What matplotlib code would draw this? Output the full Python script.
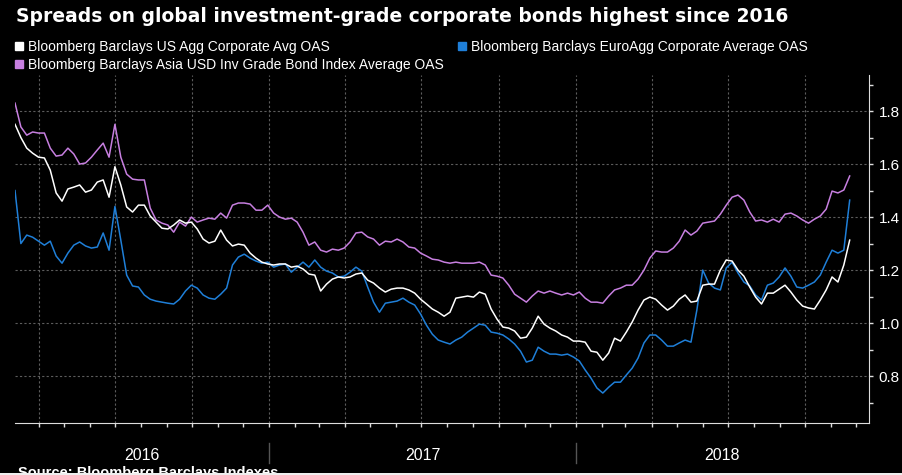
import numpy as np
import pandas as pd
import matplotlib
matplotlib.use("Agg")
import matplotlib.pyplot as plt
import matplotlib.dates as mdates
from matplotlib.lines import Line2D
from matplotlib.patches import Rectangle

# -------------------------------
# Data (weekly), OAS in percentage points
# -------------------------------
dates = pd.date_range("2016-03-04", "2018-11-23", freq="W-FRI")

us_agg = [1.75, 1.70, 1.66, 1.641, 1.626, 1.623, 1.577, 1.491, 1.46, 1.506,
          1.513, 1.521, 1.494, 1.502, 1.532, 1.54, 1.475, 1.59, 1.521, 1.438,
          1.419, 1.445, 1.445, 1.404, 1.381, 1.358, 1.355, 1.37, 1.389, 1.377,
          1.381, 1.355, 1.317, 1.302, 1.309, 1.351, 1.313, 1.291, 1.298, 1.294,
          1.264, 1.245, 1.23, 1.223, 1.219, 1.223, 1.223, 1.211, 1.215, 1.204,
          1.185, 1.181, 1.121, 1.147, 1.166, 1.174, 1.17, 1.174, 1.185, 1.189,
          1.162, 1.151, 1.132, 1.117, 1.128, 1.132, 1.132, 1.125, 1.113, 1.09,
          1.072, 1.053, 1.041, 1.026, 1.041, 1.094, 1.098, 1.102, 1.098, 1.117,
          1.109, 1.053, 1.015, 0.985, 0.981, 0.97, 0.943, 0.947, 0.981, 1.026,
          0.996, 0.981, 0.97, 0.955, 0.947, 0.932, 0.932, 0.928, 0.894, 0.89,
          0.86, 0.887, 0.943, 0.932, 0.966, 1.004, 1.049, 1.087, 1.098, 1.09,
          1.068, 1.049, 1.064, 1.09, 1.106, 1.079, 1.083, 1.143, 1.147, 1.147,
          1.20, 1.238, 1.234, 1.20, 1.177, 1.136, 1.098, 1.072, 1.113, 1.113,
          1.128, 1.143, 1.117, 1.087, 1.064, 1.057, 1.053, 1.087, 1.125, 1.174,
          1.155, 1.219, 1.313]

euro_agg = [1.50, 1.30, 1.332, 1.324, 1.309, 1.294, 1.309, 1.253, 1.226, 1.264,
            1.294, 1.306, 1.291, 1.283, 1.287, 1.34, 1.275, 1.44, 1.313, 1.181,
            1.14, 1.136, 1.106, 1.09, 1.083, 1.079, 1.075, 1.072, 1.09, 1.121,
            1.143, 1.132, 1.106, 1.094, 1.09, 1.109, 1.132, 1.219, 1.249, 1.26,
            1.245, 1.234, 1.226, 1.23, 1.211, 1.219, 1.223, 1.192, 1.211, 1.23,
            1.211, 1.238, 1.211, 1.196, 1.189, 1.174, 1.177, 1.192, 1.211, 1.196,
            1.136, 1.079, 1.041, 1.075, 1.079, 1.083, 1.094, 1.079, 1.068, 1.034,
            0.992, 0.958, 0.936, 0.928, 0.921, 0.936, 0.947, 0.966, 0.981, 0.996,
            0.992, 0.966, 0.962, 0.955, 0.94, 0.921, 0.894, 0.853, 0.86, 0.909,
            0.894, 0.883, 0.883, 0.879, 0.883, 0.872, 0.857, 0.823, 0.792, 0.755,
            0.736, 0.758, 0.777, 0.777, 0.804, 0.83, 0.868, 0.925, 0.955, 0.955,
            0.936, 0.913, 0.913, 0.925, 0.936, 0.928, 1.049, 1.20, 1.151, 1.132,
            1.125, 1.208, 1.23, 1.189, 1.155, 1.14, 1.106, 1.087, 1.143, 1.151,
            1.174, 1.208, 1.177, 1.136, 1.132, 1.143, 1.155, 1.181, 1.23, 1.275,
            1.264, 1.275, 1.464]

asia_usd = [1.83, 1.74, 1.709, 1.721, 1.717, 1.717, 1.66, 1.63, 1.634, 1.66,
            1.638, 1.60, 1.604, 1.626, 1.653, 1.679, 1.626, 1.75, 1.626, 1.562,
            1.543, 1.54, 1.54, 1.434, 1.389, 1.377, 1.37, 1.343, 1.381, 1.366,
            1.40, 1.381, 1.389, 1.396, 1.392, 1.415, 1.396, 1.445, 1.453, 1.453,
            1.449, 1.426, 1.426, 1.445, 1.415, 1.40, 1.392, 1.396, 1.381, 1.343,
            1.294, 1.306, 1.275, 1.268, 1.279, 1.275, 1.283, 1.306, 1.34, 1.343,
            1.325, 1.317, 1.294, 1.309, 1.306, 1.317, 1.306, 1.287, 1.283, 1.264,
            1.253, 1.241, 1.238, 1.23, 1.226, 1.23, 1.226, 1.226, 1.226, 1.23,
            1.219, 1.181, 1.177, 1.17, 1.143, 1.109, 1.094, 1.079, 1.102, 1.121,
            1.113, 1.121, 1.113, 1.106, 1.113, 1.106, 1.117, 1.094, 1.079, 1.079,
            1.075, 1.102, 1.125, 1.132, 1.143, 1.143, 1.166, 1.20, 1.245, 1.272,
            1.268, 1.268, 1.283, 1.309, 1.351, 1.332, 1.347, 1.377, 1.381, 1.385,
            1.411, 1.445, 1.475, 1.483, 1.464, 1.419, 1.385, 1.389, 1.381, 1.392,
            1.381, 1.411, 1.415, 1.404, 1.389, 1.377, 1.392, 1.404, 1.43, 1.498,
            1.491, 1.502, 1.555]

labels = ["Bloomberg Barclays US Agg Corporate Avg OAS",
          "Bloomberg Barclays EuroAgg Corporate Average OAS",
          "Bloomberg Barclays Asia USD Inv Grade Bond Index Average OAS"]
colores = ["#ffffff", "#1f7fd8", "#c77fe0"]
years = ["2016", "2017", "2018"]

title = "Spreads on global investment-grade corporate bonds highest since 2016"
source = "Source: Bloomberg Barclays Indexes"

# -------------------------------
# Figure
# -------------------------------
W, H = 902, 475
fx = lambda px: px / W
fy = lambda py: 1 - py / H

plt.rcParams['font.family'] = ['Liberation Sans', 'DejaVu Sans']

fig = plt.figure(figsize=(W / 100, H / 100), dpi=100, facecolor="black")
ax = fig.add_axes([fx(15), fy(423), fx(869) - fx(15), fy(75) - fy(423)])
ax.set_facecolor("black")

x0 = pd.Timestamp("2016-03-04")
x1 = pd.Timestamp("2018-12-16")
ax.set_xlim(x0, x1)
ax.set_ylim(0.623, 1.936)

for serie, c in zip([asia_usd, euro_agg, us_agg], [colores[2], colores[1], colores[0]]):
    ax.plot(dates, serie, color=c, lw=1.1, zorder=3)

# ejes
for s in ["top", "left"]:
    ax.spines[s].set_visible(False)
ax.spines["bottom"].set_color("#dddddd")
ax.spines["right"].set_color("#dddddd")

ax.yaxis.tick_right()
ax.set_yticks([0.8, 1.0, 1.2, 1.4, 1.6, 1.8])
ax.set_yticks([0.7, 0.9, 1.1, 1.3, 1.5, 1.7, 1.9], minor=True)
ax.yaxis.set_major_formatter(matplotlib.ticker.FormatStrFormatter("%.1f"))
ax.tick_params(axis="y", which="both", direction="out", length=3, width=1,
               color="#dddddd", labelcolor="white", labelsize=11, pad=4)

ax.xaxis.set_major_locator(mdates.MonthLocator(bymonth=[1, 4, 7, 10]))
ax.xaxis.set_minor_locator(mdates.MonthLocator())
ax.xaxis.set_major_formatter(matplotlib.ticker.NullFormatter())
ax.tick_params(axis="x", which="both", direction="out", length=3, width=1,
               color="#dddddd")

ax.grid(True, which="major", color="#5c5c5c", linestyle=(0, (2, 2)), lw=0.8)

# etiquetas de años
bounds = [x0, pd.Timestamp("2017-01-01"), pd.Timestamp("2018-01-01"), x1]
tr = ax.get_xaxis_transform()
for k, yr in enumerate(years):
    a, b = mdates.date2num(bounds[k]), mdates.date2num(bounds[k + 1])
    ax.text((a + b) / 2, -0.092, yr, transform=tr, ha="center", va="center",
            color="white", fontsize=11.5, clip_on=False)
for d in bounds[1:3]:
    ax.plot([d, d], [-0.057, -0.115], transform=tr, color="#555555", lw=1,
            clip_on=False)

# -------------------------------
# Textos
# -------------------------------
fig.text(fx(16), fy(16), title, color="white", fontsize=13.5, fontweight="bold",
         family="DejaVu Sans", ha="left", va="center")

handles = [Line2D([], [], marker="s", linestyle="none", markersize=6,
                  color=c) for c in colores]
order = [0, 2, 1]
fig.legend([handles[i] for i in order], [labels[i] for i in order],
           loc="upper left", bbox_to_anchor=(fx(14), fy(40)), ncol=2,
           frameon=False, handlelength=0.7, handletextpad=0.3,
           columnspacing=1.0, labelspacing=0.3, borderaxespad=0,
           borderpad=0, fontsize=10.0, labelcolor="white")

fig.text(fx(18), fy(473), source, color="white", fontsize=10.5,
         fontweight="bold", ha="left", va="center")
fig.patches.append(Rectangle((0, 0), 1, 2.5 / H, transform=fig.transFigure,
                             facecolor="#eeeeee", edgecolor="none", zorder=10))

fig.savefig("out.png", dpi=100, facecolor="black")
